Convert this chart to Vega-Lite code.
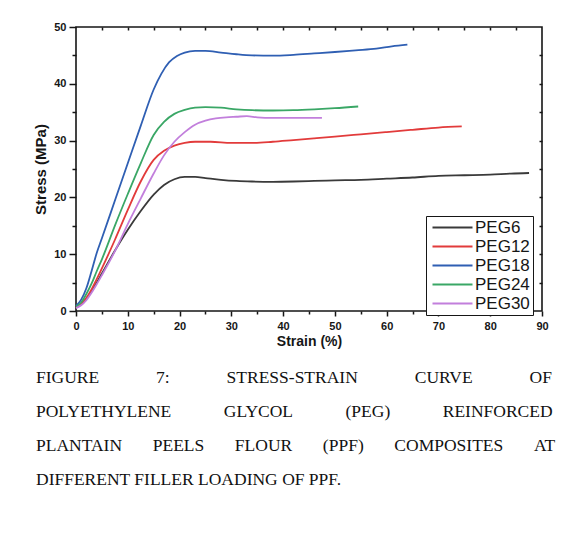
{
  "$schema": "https://vega.github.io/schema/vega-lite/v6.json",
  "autosize": "none",
  "width": 466,
  "height": 284,
  "padding": {"left": 76, "top": 27, "right": 23, "bottom": 223},
  "background": "white",
  "config": {
    "view": {"stroke": "#161616", "strokeWidth": 1.6},
    "axis": {"grid": false, "domain": false, "tickColor": "#161616", "tickWidth": 1.5, "labelColor": "#161616", "titleColor": "#161616", "labelFont": "Liberation Sans", "titleFont": "Liberation Sans"}
  },
  "title": {
    "text": [
      "FIGURE\u00a0\u00a0\u00a0\u00a0\u00a0\u00a0\u00a0\u00a0\u00a0\u00a0\u00a0\u00a0\u00a07:\u00a0\u00a0\u00a0\u00a0\u00a0\u00a0\u00a0\u00a0\u00a0\u00a0\u00a0\u00a0\u00a0STRESS-STRAIN\u00a0\u00a0\u00a0\u00a0\u00a0\u00a0\u00a0\u00a0\u00a0\u00a0\u00a0\u00a0\u00a0CURVE\u00a0\u00a0\u00a0\u00a0\u00a0\u00a0\u00a0\u00a0\u00a0\u00a0\u00a0\u00a0\u00a0OF",
      "POLYETHYLENE\u00a0\u00a0\u00a0\u00a0\u00a0\u00a0\u00a0\u00a0\u00a0\u00a0\u00a0\u00a0GLYCOL\u00a0\u00a0\u00a0\u00a0\u00a0\u00a0\u00a0\u00a0\u00a0\u00a0\u00a0\u00a0(PEG)\u00a0\u00a0\u00a0\u00a0\u00a0\u00a0\u00a0\u00a0\u00a0\u00a0\u00a0\u00a0REINFORCED",
      "PLANTAIN\u00a0\u00a0\u00a0\u00a0\u00a0\u00a0\u00a0PEELS\u00a0\u00a0\u00a0\u00a0\u00a0\u00a0\u00a0FLOUR\u00a0\u00a0\u00a0\u00a0\u00a0\u00a0\u00a0(PPF)\u00a0\u00a0\u00a0\u00a0\u00a0\u00a0\u00a0COMPOSITES\u00a0\u00a0\u00a0\u00a0\u00a0\u00a0\u00a0AT",
      "DIFFERENT FILLER LOADING OF PPF."
    ],
    "orient": "bottom",
    "anchor": "start",
    "frame": "group",
    "dx": -40,
    "offset": 21,
    "font": "Liberation Serif",
    "fontSize": 17.5,
    "fontWeight": "normal",
    "lineHeight": 34,
    "color": "#111111"
  },
  "data": {
    "values": [
      {"series": "PEG6", "strain": 0, "stress": 0.7},
      {"series": "PEG6", "strain": 1, "stress": 1.2},
      {"series": "PEG6", "strain": 2, "stress": 2.2},
      {"series": "PEG6", "strain": 3, "stress": 3.5},
      {"series": "PEG6", "strain": 4, "stress": 5.0},
      {"series": "PEG6", "strain": 5, "stress": 6.6},
      {"series": "PEG6", "strain": 7.5, "stress": 10.6},
      {"series": "PEG6", "strain": 10, "stress": 14.3},
      {"series": "PEG6", "strain": 12.5, "stress": 17.6},
      {"series": "PEG6", "strain": 15, "stress": 20.5},
      {"series": "PEG6", "strain": 17, "stress": 22.2},
      {"series": "PEG6", "strain": 19, "stress": 23.2},
      {"series": "PEG6", "strain": 21, "stress": 23.6},
      {"series": "PEG6", "strain": 23, "stress": 23.6},
      {"series": "PEG6", "strain": 25, "stress": 23.4},
      {"series": "PEG6", "strain": 28, "stress": 23.1},
      {"series": "PEG6", "strain": 31, "stress": 22.9},
      {"series": "PEG6", "strain": 34, "stress": 22.8},
      {"series": "PEG6", "strain": 38, "stress": 22.75},
      {"series": "PEG6", "strain": 42, "stress": 22.8},
      {"series": "PEG6", "strain": 46, "stress": 22.9},
      {"series": "PEG6", "strain": 50, "stress": 23.0},
      {"series": "PEG6", "strain": 55, "stress": 23.1},
      {"series": "PEG6", "strain": 60, "stress": 23.3},
      {"series": "PEG6", "strain": 65, "stress": 23.5},
      {"series": "PEG6", "strain": 70, "stress": 23.8},
      {"series": "PEG6", "strain": 75, "stress": 23.9},
      {"series": "PEG6", "strain": 80, "stress": 24.0},
      {"series": "PEG6", "strain": 84, "stress": 24.2},
      {"series": "PEG6", "strain": 87.5, "stress": 24.3},

      {"series": "PEG12", "strain": 0, "stress": 0.6},
      {"series": "PEG12", "strain": 1, "stress": 1.2},
      {"series": "PEG12", "strain": 2, "stress": 2.3},
      {"series": "PEG12", "strain": 3, "stress": 3.8},
      {"series": "PEG12", "strain": 4, "stress": 5.6},
      {"series": "PEG12", "strain": 5, "stress": 7.5},
      {"series": "PEG12", "strain": 7.5, "stress": 12.5},
      {"series": "PEG12", "strain": 10, "stress": 17.8},
      {"series": "PEG12", "strain": 12.5, "stress": 22.8},
      {"series": "PEG12", "strain": 15, "stress": 26.6},
      {"series": "PEG12", "strain": 17, "stress": 28.2},
      {"series": "PEG12", "strain": 19, "stress": 29.1},
      {"series": "PEG12", "strain": 21, "stress": 29.6},
      {"series": "PEG12", "strain": 23, "stress": 29.8},
      {"series": "PEG12", "strain": 26, "stress": 29.8},
      {"series": "PEG12", "strain": 30, "stress": 29.6},
      {"series": "PEG12", "strain": 34, "stress": 29.6},
      {"series": "PEG12", "strain": 38, "stress": 29.8},
      {"series": "PEG12", "strain": 42, "stress": 30.1},
      {"series": "PEG12", "strain": 46, "stress": 30.4},
      {"series": "PEG12", "strain": 50, "stress": 30.7},
      {"series": "PEG12", "strain": 55, "stress": 31.1},
      {"series": "PEG12", "strain": 60, "stress": 31.5},
      {"series": "PEG12", "strain": 65, "stress": 31.9},
      {"series": "PEG12", "strain": 70, "stress": 32.3},
      {"series": "PEG12", "strain": 74.5, "stress": 32.5},

      {"series": "PEG18", "strain": 0, "stress": 0.9},
      {"series": "PEG18", "strain": 1, "stress": 2.0},
      {"series": "PEG18", "strain": 2, "stress": 4.0},
      {"series": "PEG18", "strain": 3, "stress": 7.0},
      {"series": "PEG18", "strain": 4, "stress": 10.2},
      {"series": "PEG18", "strain": 5, "stress": 12.8},
      {"series": "PEG18", "strain": 7.5, "stress": 19.4},
      {"series": "PEG18", "strain": 10, "stress": 26.0},
      {"series": "PEG18", "strain": 12.5, "stress": 32.6},
      {"series": "PEG18", "strain": 15, "stress": 39.0},
      {"series": "PEG18", "strain": 16.5, "stress": 41.8},
      {"series": "PEG18", "strain": 18, "stress": 43.8},
      {"series": "PEG18", "strain": 19.5, "stress": 44.9},
      {"series": "PEG18", "strain": 21, "stress": 45.5},
      {"series": "PEG18", "strain": 23, "stress": 45.8},
      {"series": "PEG18", "strain": 25, "stress": 45.8},
      {"series": "PEG18", "strain": 28, "stress": 45.5},
      {"series": "PEG18", "strain": 31, "stress": 45.2},
      {"series": "PEG18", "strain": 34, "stress": 45.0},
      {"series": "PEG18", "strain": 38, "stress": 44.95},
      {"series": "PEG18", "strain": 42, "stress": 45.1},
      {"series": "PEG18", "strain": 46, "stress": 45.35},
      {"series": "PEG18", "strain": 50, "stress": 45.6},
      {"series": "PEG18", "strain": 54, "stress": 45.9},
      {"series": "PEG18", "strain": 58, "stress": 46.2},
      {"series": "PEG18", "strain": 61, "stress": 46.6},
      {"series": "PEG18", "strain": 64, "stress": 46.9},

      {"series": "PEG24", "strain": 0, "stress": 0.8},
      {"series": "PEG24", "strain": 1, "stress": 1.5},
      {"series": "PEG24", "strain": 2, "stress": 3.0},
      {"series": "PEG24", "strain": 3, "stress": 4.8},
      {"series": "PEG24", "strain": 4, "stress": 7.0},
      {"series": "PEG24", "strain": 5, "stress": 9.1},
      {"series": "PEG24", "strain": 7.5, "stress": 15.0},
      {"series": "PEG24", "strain": 10, "stress": 20.6},
      {"series": "PEG24", "strain": 12.5, "stress": 26.0},
      {"series": "PEG24", "strain": 15, "stress": 31.0},
      {"series": "PEG24", "strain": 17, "stress": 33.3},
      {"series": "PEG24", "strain": 19, "stress": 34.7},
      {"series": "PEG24", "strain": 21, "stress": 35.4},
      {"series": "PEG24", "strain": 23, "stress": 35.8},
      {"series": "PEG24", "strain": 25, "stress": 35.9},
      {"series": "PEG24", "strain": 28, "stress": 35.8},
      {"series": "PEG24", "strain": 31, "stress": 35.5},
      {"series": "PEG24", "strain": 34, "stress": 35.35},
      {"series": "PEG24", "strain": 38, "stress": 35.3},
      {"series": "PEG24", "strain": 42, "stress": 35.35},
      {"series": "PEG24", "strain": 46, "stress": 35.5},
      {"series": "PEG24", "strain": 50, "stress": 35.7},
      {"series": "PEG24", "strain": 54.5, "stress": 36.0},

      {"series": "PEG30", "strain": 0, "stress": 0.5},
      {"series": "PEG30", "strain": 1, "stress": 1.0},
      {"series": "PEG30", "strain": 2, "stress": 1.9},
      {"series": "PEG30", "strain": 3, "stress": 3.2},
      {"series": "PEG30", "strain": 4, "stress": 4.7},
      {"series": "PEG30", "strain": 5, "stress": 6.3},
      {"series": "PEG30", "strain": 7.5, "stress": 10.5},
      {"series": "PEG30", "strain": 10, "stress": 15.3},
      {"series": "PEG30", "strain": 12.5, "stress": 19.8},
      {"series": "PEG30", "strain": 15, "stress": 24.2},
      {"series": "PEG30", "strain": 17, "stress": 27.4},
      {"series": "PEG30", "strain": 19, "stress": 29.8},
      {"series": "PEG30", "strain": 21, "stress": 31.5},
      {"series": "PEG30", "strain": 23, "stress": 32.8},
      {"series": "PEG30", "strain": 25, "stress": 33.5},
      {"series": "PEG30", "strain": 27, "stress": 33.9},
      {"series": "PEG30", "strain": 29, "stress": 34.1},
      {"series": "PEG30", "strain": 31, "stress": 34.2},
      {"series": "PEG30", "strain": 33, "stress": 34.3},
      {"series": "PEG30", "strain": 35, "stress": 34.1},
      {"series": "PEG30", "strain": 38, "stress": 34.0},
      {"series": "PEG30", "strain": 42, "stress": 34.0},
      {"series": "PEG30", "strain": 47.5, "stress": 34.0}
    ]
  },
  "resolve": {"axis": {"x": "independent", "y": "independent"}},
  "layer": [
    {
      "mark": {"type": "line", "interpolate": "monotone", "strokeWidth": 1.8},
      "encoding": {
        "x": {
          "field": "strain", "type": "quantitative",
          "scale": {"domain": [0, 90], "nice": false, "zero": false},
          "axis": {"orient": "bottom", "values": [0, 10, 20, 30, 40, 50, 60, 70, 80, 90], "title": "Strain (%)", "tickSize": 5, "labelFontSize": 11, "labelFontWeight": "bold", "labelPadding": 4, "labelFlush": false, "titleFontSize": 14, "titleFontWeight": "bold", "titlePadding": 3}
        },
        "y": {
          "field": "stress", "type": "quantitative",
          "scale": {"domain": [0, 50], "nice": false, "zero": false},
          "axis": {"orient": "left", "values": [0, 10, 20, 30, 40, 50], "title": "Stress (MPa)", "tickSize": 7, "labelFontSize": 11, "labelFontWeight": "bold", "labelPadding": 3, "labelFlush": false, "titleFontSize": 15, "titleFontWeight": "bold", "titlePadding": 5}
        },
        "color": {
          "field": "series", "type": "nominal",
          "scale": {"domain": ["PEG6", "PEG12", "PEG18", "PEG24", "PEG30"], "range": ["#3a3a3a", "#e23b3b", "#2f5fb3", "#3aa766", "#c27fdc"]},
          "legend": {"orient": "none", "legendX": 350, "legendY": 189, "title": null, "symbolType": "M-4,0H4", "symbolSize": 100, "symbolOffset": 15, "labelOffset": 14, "symbolStrokeWidth": 2, "labelFont": "Liberation Sans", "labelFontSize": 17, "labelColor": "#161616", "rowPadding": 1, "padding": 3, "strokeColor": "#161616", "fillColor": "white", "cornerRadius": 0}
        }
      }
    },
    {
      "mark": {"type": "line", "opacity": 0},
      "encoding": {
        "x": {"field": "strain", "type": "quantitative", "axis": {"orient": "bottom", "values": [5, 15, 25, 35, 45, 55, 65, 75, 85], "labels": false, "title": null, "tickSize": 3}},
        "y": {"field": "stress", "type": "quantitative", "axis": {"orient": "left", "values": [5, 15, 25, 35, 45], "labels": false, "title": null, "tickSize": 4}},
        "detail": {"field": "series"}
      }
    },
    {
      "mark": {"type": "line", "opacity": 0},
      "encoding": {
        "x": {"field": "strain", "type": "quantitative", "axis": {"orient": "top", "values": [5, 10, 15, 20, 25, 30, 35, 40, 45, 50, 55, 60, 65, 70, 75, 80, 85], "labels": false, "title": null, "tickSize": -3}},
        "y": {"field": "stress", "type": "quantitative", "axis": {"orient": "right", "values": [5, 10, 15, 20, 25, 30, 35, 40, 45], "labels": false, "title": null, "tickSize": -3}},
        "detail": {"field": "series"}
      }
    }
  ]
}
